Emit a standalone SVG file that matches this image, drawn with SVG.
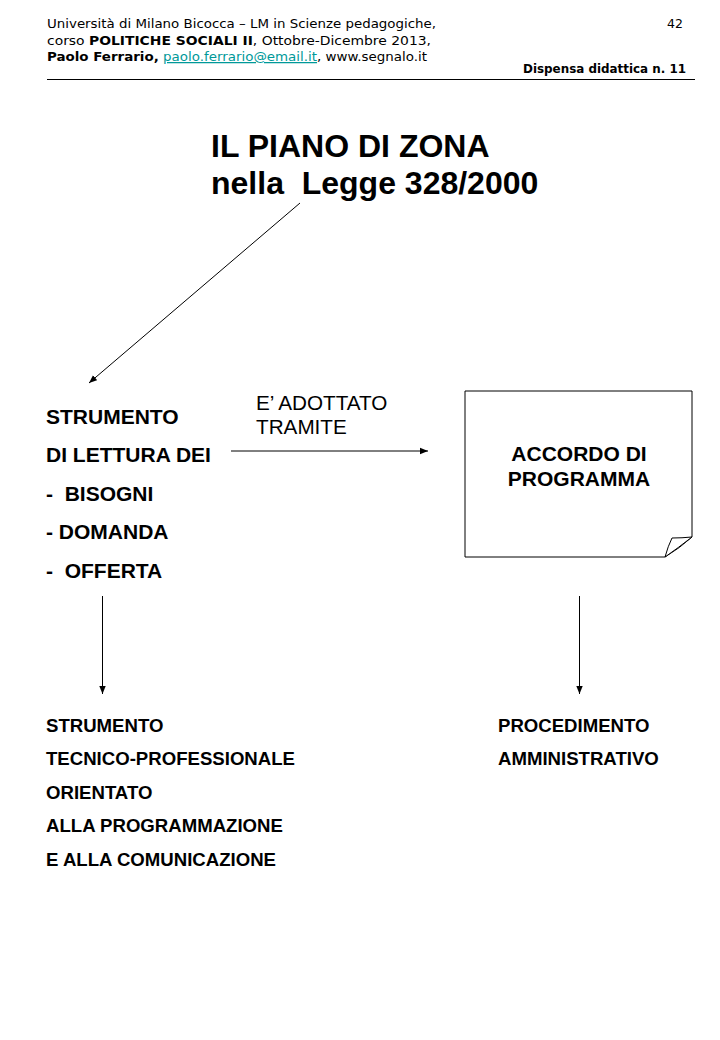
<svg xmlns="http://www.w3.org/2000/svg" width="720" height="1040" viewBox="0 0 720 1040">
<style>
.hdr{font-family:"DejaVu Sans",Verdana,sans-serif;font-size:12.5px;fill:#000}
.b{font-weight:bold}
.link{fill:#009999;text-decoration:underline}
.title{font-family:"Liberation Sans",Arial,sans-serif;font-size:32px;font-weight:bold;fill:#000}
.lbl{font-family:"Liberation Sans",Arial,sans-serif;font-size:21px;font-weight:bold;fill:#000}
.lblr{font-family:"Liberation Sans",Arial,sans-serif;font-size:20.7px;fill:#000}
.lbl2{font-family:"Liberation Sans",Arial,sans-serif;font-size:18.6px;font-weight:bold;fill:#000}
.conn{stroke:#000;stroke-width:1;fill:none;marker-end:url(#ah)}
.box{fill:#fff;stroke:#000;stroke-width:1}
</style>
<defs>
<marker id="ah" viewBox="0 0 10 10" refX="10" refY="5" markerWidth="8" markerHeight="8" markerUnits="userSpaceOnUse" orient="auto">
<path d="M0,1 L10,5 L0,9 z" fill="#000"/>
</marker>
</defs>
<rect width="720" height="1040" fill="#fff"/>
<g id="header">
<text class="hdr" x="47" y="28" textLength="389" lengthAdjust="spacingAndGlyphs">Università di Milano Bicocca – LM in Scienze pedagogiche,</text>
<text class="hdr" x="47" y="45" textLength="384" lengthAdjust="spacingAndGlyphs">corso <tspan class="b">POLITICHE SOCIALI II</tspan>, Ottobre-Dicembre 2013,</text>
<text class="hdr" x="47" y="61" textLength="380" lengthAdjust="spacingAndGlyphs"><tspan class="b">Paolo Ferrario,</tspan> <tspan class="link">paolo.ferrario@email.it</tspan>, www.segnalo.it</text>
<text class="hdr" x="683" y="28" text-anchor="end">42</text>
<text class="hdr b" x="686" y="73" text-anchor="end" textLength="163" lengthAdjust="spacingAndGlyphs">Dispensa didattica n. 11</text>
<line x1="47" y1="79.5" x2="695" y2="79.5" stroke="#000" stroke-width="1"/>
</g>
<g id="title">
<text class="title" x="211" y="157">IL PIANO DI ZONA</text>
<text class="title" x="211" y="194" xml:space="preserve">nella  Legge 328/2000</text>
</g>
<g id="strumento-lettura">
<text class="lbl" x="46" y="424">STRUMENTO</text>
<text class="lbl" x="46" y="462">DI LETTURA DEI</text>
<text class="lbl" x="46" y="501" xml:space="preserve">-  BISOGNI</text>
<text class="lbl" x="46" y="539">- DOMANDA</text>
<text class="lbl" x="46" y="578" xml:space="preserve">-  OFFERTA</text>
</g>
<g id="adottato-label">
<text class="lblr" x="256" y="410">E’ ADOTTATO</text>
<text class="lblr" x="256" y="434">TRAMITE</text>
</g>
<g id="accordo">
<path class="box" d="M465,391 H692 V537 Q680,548 665,557 H465 Z"/>
<path d="M665,557 Q668,546 672,538 Q682,538 692,537 Q678,548 665,557 Z" fill="#fff" stroke="#000" stroke-width="1"/>
<text class="lbl" x="579" y="461" text-anchor="middle">ACCORDO DI</text>
<text class="lbl" x="579" y="486" text-anchor="middle">PROGRAMMA</text>
</g>
<g id="strumento-tecnico">
<text class="lbl2" x="46" y="732">STRUMENTO</text>
<text class="lbl2" x="46" y="765">TECNICO-PROFESSIONALE</text>
<text class="lbl2" x="46" y="799">ORIENTATO</text>
<text class="lbl2" x="46" y="832">ALLA PROGRAMMAZIONE</text>
<text class="lbl2" x="46" y="866">E ALLA COMUNICAZIONE</text>
</g>
<g id="procedimento">
<text class="lbl2" x="498" y="732">PROCEDIMENTO</text>
<text class="lbl2" x="498" y="765">AMMINISTRATIVO</text>
</g>
<g id="connectors">
<line class="conn" x1="300" y1="203" x2="89" y2="383"/>
<line class="conn" x1="231" y1="451" x2="428" y2="451"/>
<line class="conn" x1="102.5" y1="596" x2="102.5" y2="694"/>
<line class="conn" x1="579.5" y1="596" x2="579.5" y2="694"/>
</g>
</svg>
